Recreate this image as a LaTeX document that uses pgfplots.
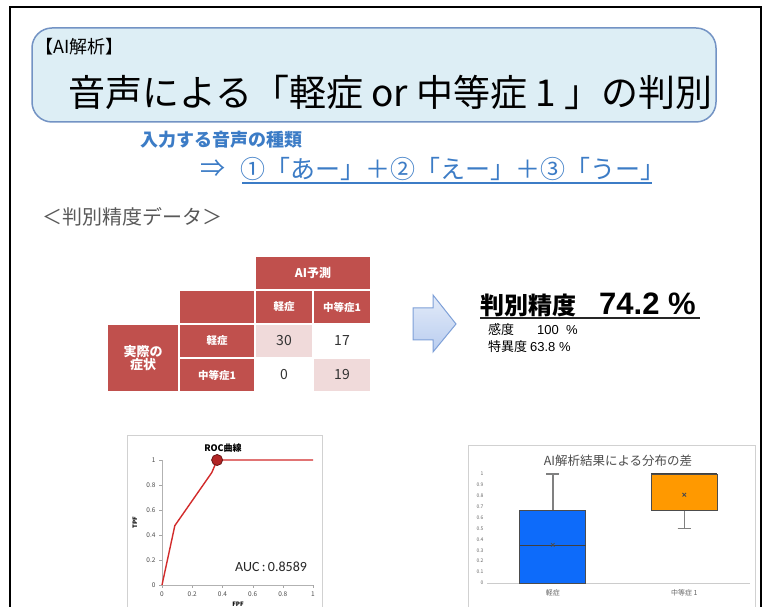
\documentclass[border=0pt]{standalone}
\usepackage{fontspec}
\usepackage{pgfplots}
\pgfplotsset{compat=1.18}
\usepgfplotslibrary{statistics}
\setmainfont{Noto Sans CJK JP}
\newfontfamily\ls{Liberation Sans}
\newfontfamily\cb{Carlito}
\definecolor{boxbg}{HTML}{DDEEF5}
\definecolor{boxline}{HTML}{7393C4}
\definecolor{jblue}{HTML}{3C7CC6}
\definecolor{tred}{HTML}{C0504D}
\definecolor{tpink}{HTML}{F0DADA}
\definecolor{rocred}{HTML}{D22B2B}
\definecolor{bblue}{HTML}{0D6BFA}
\definecolor{borange}{HTML}{FF9900}
\definecolor{arrowfill}{HTML}{B9CDEF}
\definecolor{arrowline}{HTML}{7EA0D8}
\newcommand{\fs}[1]{\fontsize{#1}{#1}\selectfont}
\newcommand{\cell}[7]{%
  \fill[#5] (#1,#2) rectangle (#3,#4);
  \draw[white,line width=1.5pt] (#1,#2) rectangle (#3,#4);
  \node[#6, inner sep=0, align=center] at ({(#1+#3)/2},{(#2+#4)/2}) {#7};}
\begin{document}
\begin{tikzpicture}[x=1pt,y=1pt]
\useasboundingbox (0,0) rectangle (765,607);
\fill[white] (0,0) rectangle (765,607);
\begin{scope}[shift={(0,607)},y=-1pt]
% slide border
\draw[line width=2pt] (9.5,640) -- (9.5,7) -- (761,7) -- (761,640);
% title box
\draw[boxline, fill=boxbg, line width=1.5pt, rounded corners=20pt] (32,28) rectangle (716,122);
\node[anchor=west, inner sep=0] at (35,47) {\fs{18}【AI解析】};
\node[anchor=west, inner sep=0] at (68,92) {\fs{37}音声による「軽症 or 中等症 1 」の判別};
\node[anchor=west, inner sep=0, text=jblue] at (140,139.5) {\fs{18}\bfseries 入力する音声の種類};
\node[anchor=west, inner sep=0, text=jblue] at (200,169) {\fs{25}⇒};
\node[anchor=west, inner sep=0, text=jblue] at (240,169) {\fs{25}①「あー」＋②「えー」＋③「うー」};
\draw[jblue, line width=1.2pt] (242,183) -- (652,183);
\node[anchor=west, inner sep=0, text=black!65] at (42,217) {\fs{20}＜判別精度データ＞};
% confusion table
\cell{255}{256}{371}{290}{tred}{text=white}{\fs{12}\bfseries AI予測}
\cell{179}{290}{255}{324}{tred}{text=white}{}
\cell{255}{290}{313}{324}{tred}{text=white}{\fs{10.5}\bfseries 軽症}
\cell{313}{290}{371}{324}{tred}{text=white}{\fs{10.5}\bfseries 中等症1}
\cell{107}{324}{179}{392}{tred}{text=white}{\fs{13}\bfseries 実際の\\[-1pt]\fs{13}\bfseries 症状}
\cell{179}{324}{255}{358}{tred}{text=white}{\fs{10.5}\bfseries 軽症}
\cell{179}{358}{255}{392}{tred}{text=white}{\fs{10.5}\bfseries 中等症1}
\cell{255}{324}{313}{358}{tpink}{text=black!80}{\fs{14}30}
\cell{313}{324}{371}{358}{white}{text=black!80}{\fs{14}17}
\cell{255}{358}{313}{392}{white}{text=black!80}{\fs{14}0}
\cell{313}{358}{371}{392}{tpink}{text=black!80}{\fs{14}19}
% arrow
\draw[arrowline, line width=1pt, top color=arrowfill!40, bottom color=arrowfill] (413,308) -- (433,308) -- (433,295) -- (456,324) -- (433,352) -- (433,340) -- (413,340) -- cycle;
% accuracy
\node[anchor=west, inner sep=0] at (480,305) {\fs{24}\bfseries 判別精度};
\node[anchor=west, inner sep=0] at (599,304) {\ls\fs{31}\bfseries 74.2 \%};
\draw[line width=2pt, black!85] (480,318) -- (700,318);
\node[anchor=west, inner sep=0] at (488,330) {\fs{13}感度};
\node[anchor=west, inner sep=0] at (537,330) {\ls\fs{13}100\ \ \%};
\node[anchor=west, inner sep=0] at (488,347) {\fs{13}特異度 {\ls 63.8 \%}};
% chart frames
\draw[black!18, line width=0.8pt] (127,640) -- (127,435) -- (322,435) -- (322,640);
\draw[black!18, line width=0.8pt] (468,640) -- (468,445) -- (755,445) -- (755,640);
\node[inner sep=0] at (223,448) {\fs{9}\bfseries ROC曲線};
\node[inner sep=0, rotate=90] at (135,523) {\fs{6}\bfseries TPF};
\node[inner sep=0] at (238,604) {\fs{6}\bfseries FPF};
\node[anchor=west, inner sep=0, text=black!85] at (235,567) {\cb\fs{14}AUC\,:\,0.8589};
\node[inner sep=0, text=black!70] at (618,461) {\fs{12.5}AI解析結果による分布の差};
\end{scope}
% ROC axis
\begin{axis}[at={(162pt,22pt)}, anchor=south west, scale only axis, width=151pt, height=125pt,
  xmin=0, xmax=1, ymin=0, ymax=1, axis lines=left, axis line style={draw=black!30, -},
  xtick={0,0.2,0.4,0.6,0.8,1}, ytick={0,0.2,0.4,0.6,0.8,1},
  xticklabels={0,0.2,0.4,0.6,0.8,1}, yticklabels={0,0.2,0.4,0.6,0.8,1},
  tick align=outside, major tick length=3pt, tick style={black!35},
  ticklabel style={font=\fs{6.5}, text=black!70},
  /pgf/number format/assume math mode=true, clip=false]
\addplot[rocred, line width=1.4pt] coordinates {(0,0) (0.085,0.475) (0.33,0.9) (0.365,1) (1,1)};
\addplot[only marks, mark=*, mark size=5.5pt, mark options={fill=rocred!85!black, draw=rocred!50!black, line width=0.8pt}] coordinates {(0.365,1)};
\end{axis}
% box plot axis
\begin{axis}[at={(487pt,24pt)}, anchor=south west, scale only axis, width=263pt, height=109pt,
  xmin=0.5, xmax=2.5, ymin=0, ymax=1,
  axis x line*=bottom, axis y line*=left, x axis line style={draw=black!20,-}, y axis line style={draw=none},
  xtick={1,2}, xticklabels={軽症,中等症 1}, ytick={0,0.1,0.2,0.3,0.4,0.5,0.6,0.7,0.8,0.9,1},
  yticklabels={0,0.1,0.2,0.3,0.4,0.5,0.6,0.7,0.8,0.9,1},
  major tick length=0pt,
  xticklabel style={font=\fs{7}, text=black!60, yshift=-3pt},
  yticklabel style={font=\fs{5}, text=black!60},
  /pgf/number format/assume math mode=true, clip=false,
  boxplot/draw direction=y,
  boxplot/every whisker/.style={draw=black!50, line width=1.5pt},
  boxplot/every median/.style={draw=black!75, line width=1pt},
  boxplot/every average/.style={/tikz/mark=x, /tikz/mark size=2.5pt, draw=black!70, line width=0.9pt}]
\addplot[fill=bblue, draw=black!70, line width=0.8pt,
  boxplot prepared={lower whisker=0, lower quartile=0, median=0.34, upper quartile=0.67, upper whisker=1, average=0.35, draw position=1, box extend=0.5, whisker extend=0.1}] coordinates {};
\addplot[fill=borange, draw=black!70, line width=0.8pt,
  boxplot prepared={lower whisker=0.5, lower quartile=0.67, median=1, upper quartile=1, upper whisker=1, average=0.81, draw position=2, box extend=0.5, whisker extend=0.1}] coordinates {};
\end{axis}
\end{tikzpicture}
\end{document}
